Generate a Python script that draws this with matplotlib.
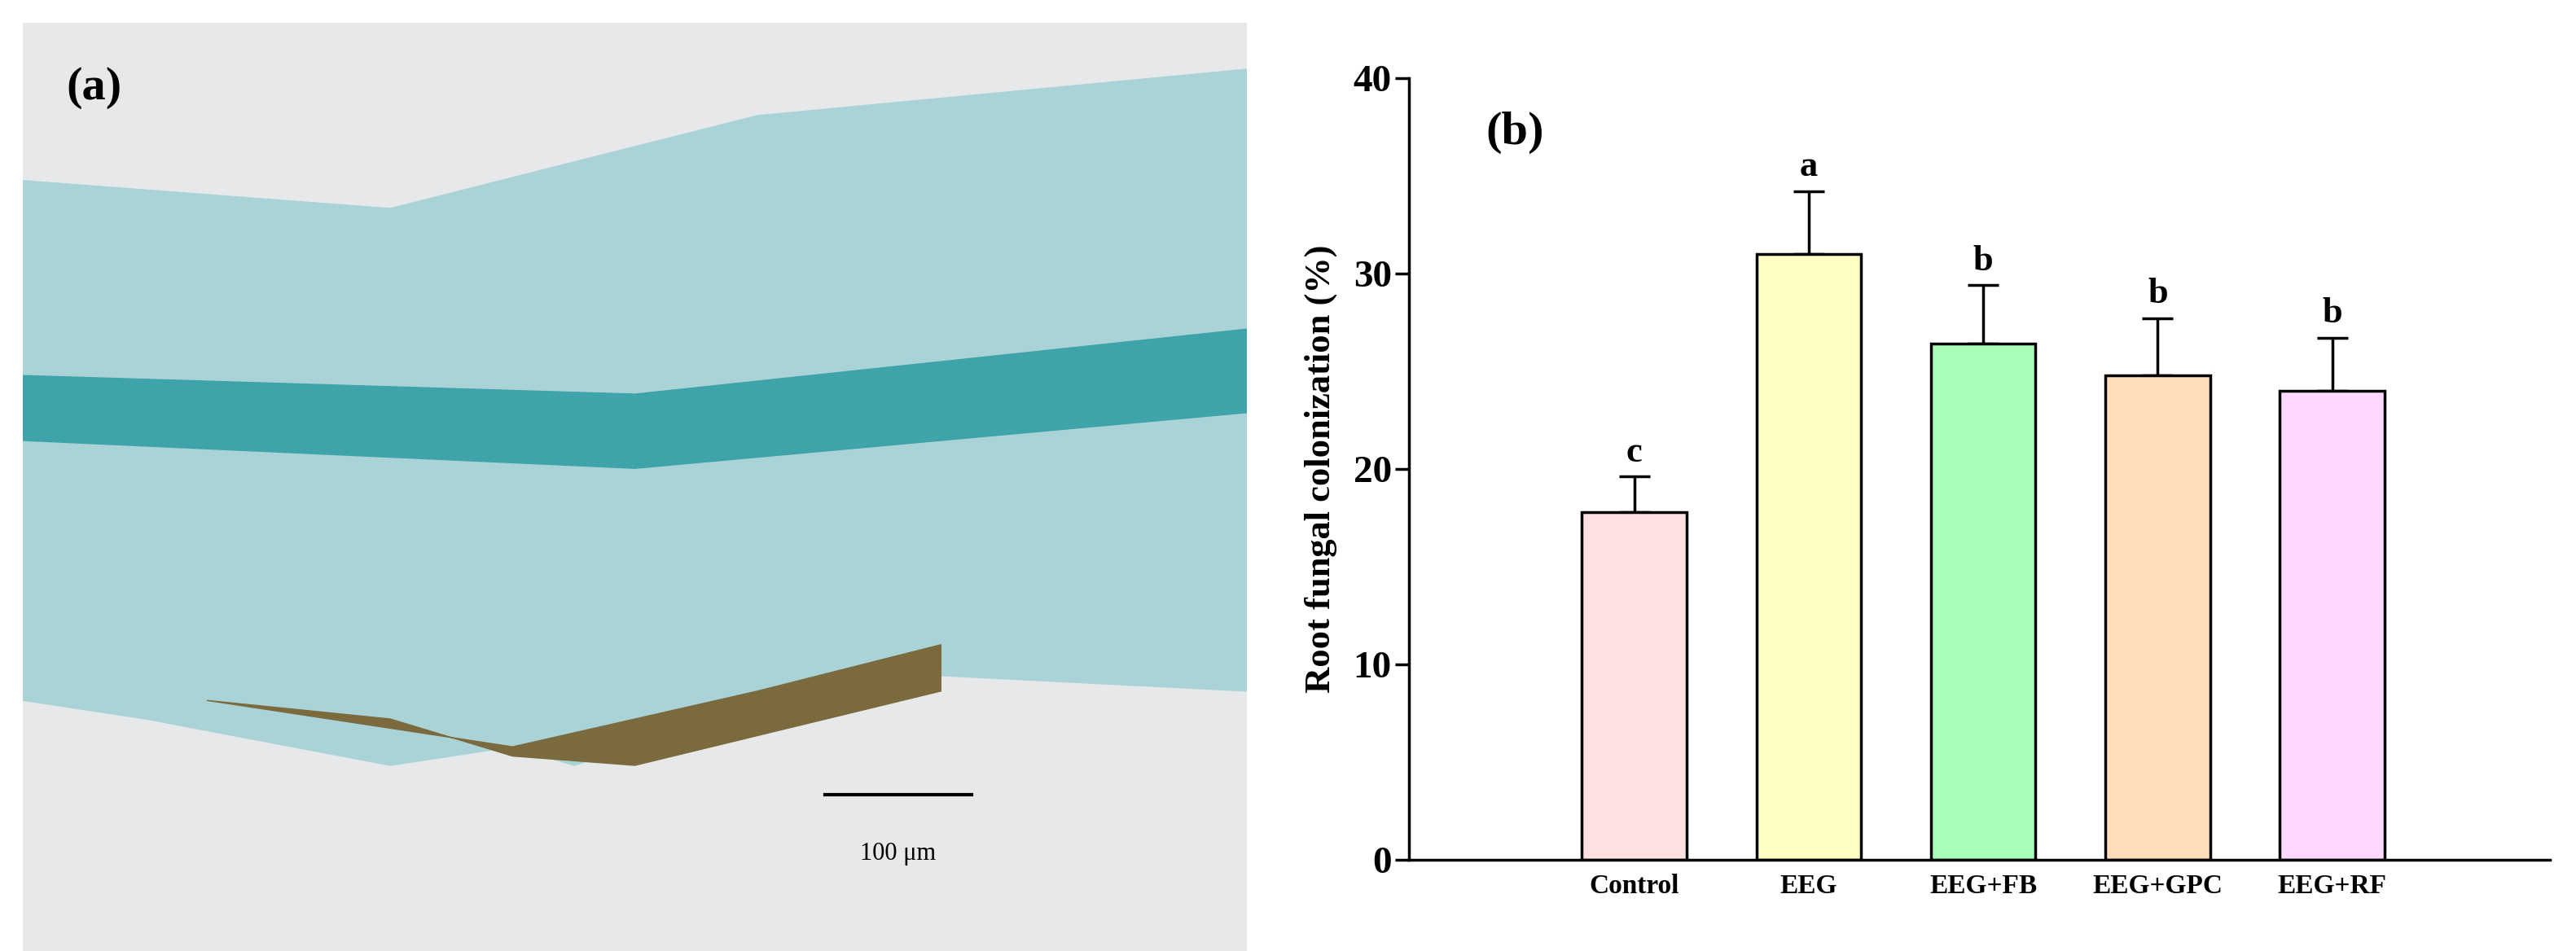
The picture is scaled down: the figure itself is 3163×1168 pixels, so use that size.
import matplotlib
matplotlib.use("Agg")
import matplotlib.pyplot as plt
import numpy as np
from matplotlib.patches import Polygon, Rectangle

categories = ["Control", "EEG", "EEG+FB", "EEG+GPC", "EEG+RF"]
values = [17.8, 31.0, 26.4, 24.8, 24.0]
errors = [1.8, 3.2, 3.0, 2.9, 2.7]
letters = ["c", "a", "b", "b", "b"]
colors = ["#FFE0E0", "#FFFFC4", "#A8FFB8", "#FFDDB8", "#FFD8FF"]

plt.rcParams['font.family'] = ['Liberation Serif', 'DejaVu Serif']
fig = plt.figure(figsize=(31.63, 11.68), dpi=100)

# panel (a): stylised micrograph
axa = fig.add_axes([0.009, 0.0, 0.475, 0.976])
axa.set_xlim(0, 1); axa.set_ylim(0, 1); axa.axis('off')
axa.add_patch(Rectangle((0, 0), 1, 1, color="#E6E8EA"))
axa.add_patch(Polygon([[0, 0.83], [0.3, 0.8], [0.6, 0.9], [1, 0.95], [1, 0.28], [0.7, 0.3],
                       [0.45, 0.2], [0.4, 0.22], [0.3, 0.2], [0.1, 0.25], [0, 0.27]],
                      color="#A9D3D6"))
axa.add_patch(Polygon([[0, 0.62], [0.5, 0.6], [1, 0.67], [1, 0.58], [0.5, 0.52], [0, 0.55]],
                      color="#3FA3AA"))
axa.add_patch(Polygon([[0.15, 0.27], [0.4, 0.22], [0.6, 0.28], [0.75, 0.33], [0.75, 0.28],
                       [0.5, 0.2], [0.4, 0.21], [0.3, 0.25]], color="#7A6A3E"))
axa.text(0.035, 0.93, "(a)", fontsize=42, fontweight='bold', va='center')
axa.plot([0.655, 0.775], [0.168, 0.168], color='black', lw=3)
axa.text(0.715, 0.105, "100 μm", fontsize=22, ha='center', va='center')

# panel (b)
ax = fig.add_axes([0.547, 0.096, 0.443, 0.822])
x = np.arange(len(categories))
ax.bar(x, values, width=0.6, color=colors, edgecolor='black', linewidth=2.5, zorder=2)
ax.errorbar(x, values, yerr=[np.zeros(len(errors)), errors], fmt='none', ecolor='black',
            elinewidth=2.5, capsize=14, capthick=2.5, zorder=1)
for xi, v, e, l in zip(x, values, errors, letters):
    ax.text(xi, v + e + 0.4, l, ha='center', va='bottom', fontsize=32, fontweight='bold')
ax.set_xlim(-1.29, 5.25)
ax.set_ylim(0, 40)
ax.set_yticks([0, 10, 20, 30, 40])
ax.set_xticks(x)
ax.set_xticklabels(categories, fontsize=24, fontweight='bold')
ax.tick_params(axis='y', labelsize=34, width=2.5, length=12, direction='out')
ax.tick_params(axis='x', length=0, pad=12)
for lab in ax.get_yticklabels():
    lab.set_fontweight('bold')
ax.spines['top'].set_visible(False)
ax.spines['right'].set_visible(False)
ax.spines['left'].set_linewidth(2.5)
ax.spines['bottom'].set_linewidth(2.5)
ax.set_ylabel("Root fungal colonization (%)", fontsize=32, fontweight='bold', labelpad=14)
ax.text(-0.85, 37.2, "(b)", fontsize=42, fontweight='bold', va='center')

fig.savefig("out.png", dpi=100)
